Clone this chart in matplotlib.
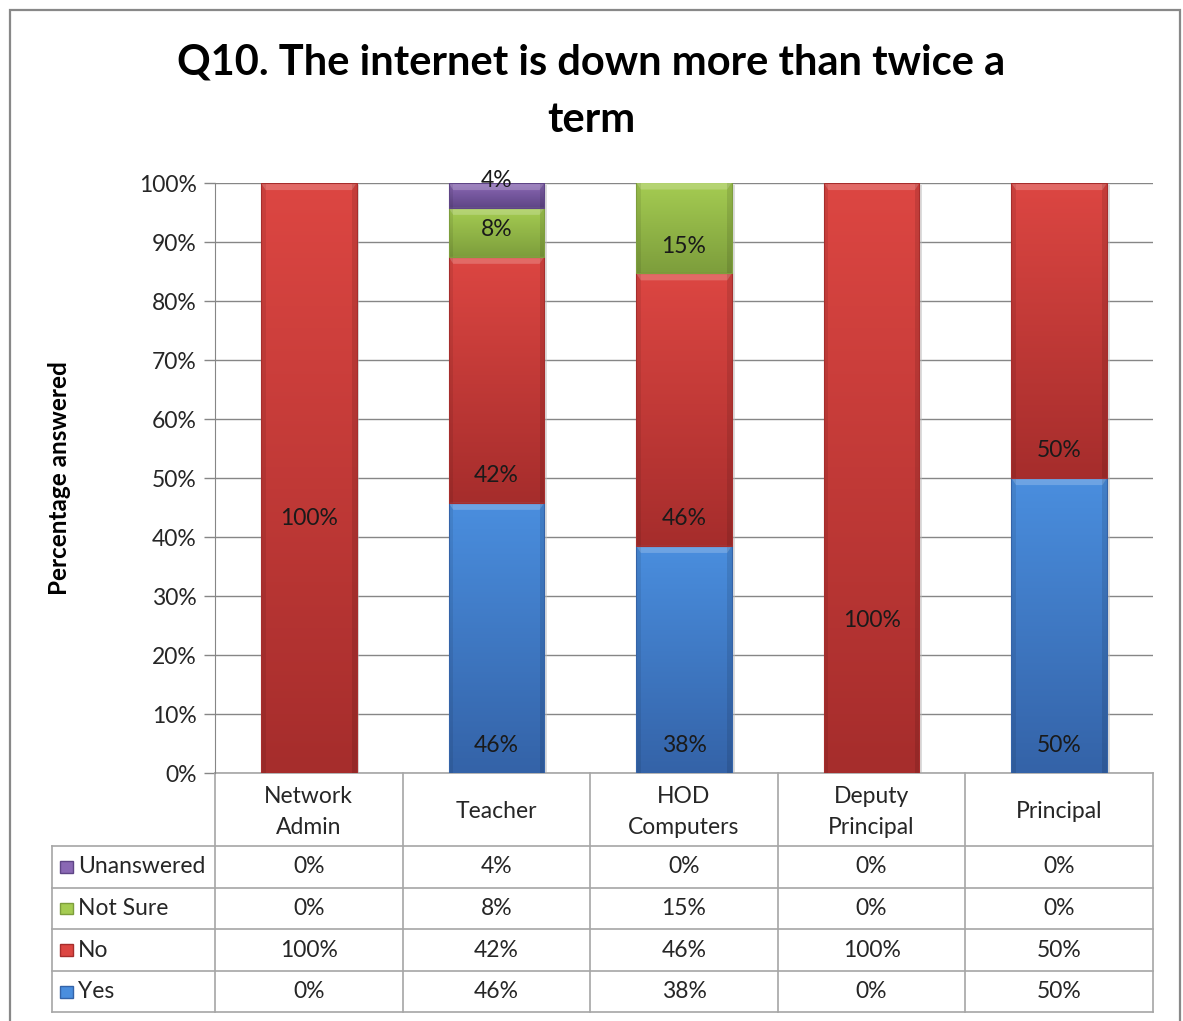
import numpy as np
import matplotlib
matplotlib.use("Agg")
import matplotlib.pyplot as plt
from matplotlib.colors import LinearSegmentedColormap
from matplotlib.patches import Rectangle, Polygon
from matplotlib.transforms import blended_transform_factory

plt.rcParams["font.family"] = ["Lato", "DejaVu Sans"]

categories = ["Network\nAdmin", "Teacher", "HOD\nComputers", "Deputy\nPrincipal", "Principal"]
series_names = ["Yes", "No", "Not Sure", "Unanswered"]
yes = [0.0, 45.8, 38.5, 0.0, 50.0]
no = [100.0, 41.7, 46.2, 100.0, 50.0]
not_sure = [0.0, 8.3, 15.4, 0.0, 0.0]
unanswered = [0.0, 4.2, 0.0, 0.0, 0.0]
# labels that were dragged away from the default "inside base" spot
label_override = {(1, 0): 43.2, (1, 3): 25.8}

colors = {
    "Yes": ("#4a8ede", "#3463a8"),
    "No": ("#dc4642", "#a62d2c"),
    "Not Sure": ("#a5cc52", "#7d9e3c"),
    "Unanswered": ("#8a68b4", "#5f4586"),
}

W, H = 1183, 1021
fig = plt.figure(figsize=(W / 100, H / 100), dpi=100)
fig.patch.set_facecolor("white")
FS = 16.5
TXT = "#262626"


def px(x0, y0, x1, y1):
    return [x0 / W, 1 - y1 / H, (x1 - x0) / W, (y1 - y0) / H]


# outer chart border
fig.add_artist(Rectangle((10 / W, -0.01), 1170 / W, 1 - 10 / H + 0.01,
                         transform=fig.transFigure, fill=False,
                         edgecolor="#888888", linewidth=1.6))

ax = fig.add_axes(px(215, 183, 1153, 773))
x = np.arange(len(categories))
bar_w = 0.51
data = [yes, no, not_sure, unanswered]

ax.set_xlim(-0.5, len(categories) - 0.5)
ax.set_ylim(0, 100)

bottoms = np.zeros(len(categories))
for si, (name, vals) in enumerate(zip(series_names, data)):
    top_c, bot_c = colors[name]
    cmap = LinearSegmentedColormap.from_list(name, [bot_c, top_c])
    bars = ax.bar(x, vals, bar_w, bottom=bottoms, color=top_c,
                  edgecolor="none", zorder=2)
    for i, (b, v) in enumerate(zip(bars, vals)):
        if v <= 0:
            continue
        x0, y0 = b.get_x(), b.get_y()
        # drop shadow
        ax.add_patch(Rectangle((x0 + 0.015, y0 - 0.4), bar_w, v,
                               color="#bbbbbb", alpha=0.5, zorder=1.5,
                               linewidth=0))
        grad = np.linspace(0, 1, 64).reshape(-1, 1)
        ax.imshow(grad, extent=[x0, x0 + bar_w, y0, y0 + v], origin="lower",
                  cmap=cmap, aspect="auto", zorder=2.1, interpolation="bilinear")
        # bevel at the top of each segment
        bh = min(1.2, v * 0.3)
        bw = 0.025
        ax.add_patch(Polygon([(x0, y0 + v), (x0 + bar_w, y0 + v),
                              (x0 + bar_w - bw, y0 + v - bh), (x0 + bw, y0 + v - bh)],
                             closed=True, facecolor="white", alpha=0.2,
                             edgecolor="none", zorder=2.2))
        ax.add_patch(Rectangle((x0, y0), bw, v, facecolor="black", alpha=0.08,
                               edgecolor="none", zorder=2.2))
        ax.add_patch(Rectangle((x0 + bar_w - bw, y0), bw, v, facecolor="black",
                               alpha=0.1, edgecolor="none", zorder=2.2))
        ax.add_patch(Rectangle((x0, y0), bar_w, v, fill=False,
                               edgecolor=bot_c, linewidth=0.8, zorder=2.3))
        ly = label_override.get((si, i), y0 + 4.6)
        ax.text(x0 + bar_w / 2, ly, f"{v:.0f}%", ha="center", va="center",
                fontsize=FS, color="#1a1a1a", zorder=4)
    bottoms += np.array(vals)

ax.set_yticks(np.arange(0, 101, 10))
ax.set_yticklabels([f"{t}%" for t in range(0, 101, 10)], fontsize=FS,
                   color=TXT)
ax.tick_params(axis="y", length=8, width=1, color="#868686", pad=5)
ax.set_xticks([])
ax.yaxis.grid(True, color="#868686", linewidth=1, zorder=0)
ax.set_axisbelow(True)
for s in ["top", "right", "bottom"]:
    ax.spines[s].set_visible(False)
ax.spines["left"].set_color("#868686")
ax.set_ylabel("Percentage answered", fontsize=17.5, fontweight="bold")
ax.yaxis.set_label_coords(-0.153, 0.5)

fig.text(0.5, 1 - 63 / H, "Q10. The internet is down more than twice a",
         ha="center", va="center", fontsize=30, fontweight="bold")
fig.text(0.5, 1 - 120 / H, "term", ha="center", va="center",
         fontsize=30, fontweight="bold")

# data table under the axis
tr = blended_transform_factory(ax.transData, ax.transAxes)
ax_h = 590.0
header_h = 73 / ax_h
row_h = 41.6 / ax_h
left_x = -0.5 - 163 / 187.6
right_x = len(categories) - 0.5
lc = "#a6a6a6"
n_rows = len(series_names)
table_bottom = -header_h - n_rows * row_h


def hline(x0, x1, y):
    ax.plot([x0, x1], [y, y], transform=tr, color=lc, lw=1.2, clip_on=False)


def vline(xp, y0, y1):
    ax.plot([xp, xp], [y0, y1], transform=tr, color=lc, lw=1.2, clip_on=False)


hline(-0.5, right_x, 0)
for r in range(n_rows + 1):
    hline(left_x, right_x, -header_h - r * row_h)
for c in range(len(categories) + 1):
    vline(-0.5 + c, 0, table_bottom)
vline(left_x, -header_h, table_bottom)

for c, cat in enumerate(categories):
    ax.text(c, -header_h / 2 - 0.004, cat, transform=tr, ha="center",
            va="center", fontsize=FS, color=TXT, linespacing=1.6)

row_order = list(reversed(range(n_rows)))
for r, si in enumerate(row_order):
    yc = -header_h - (r + 0.5) * row_h
    name = series_names[si]
    top_c, bot_c = colors[name]
    ax.add_patch(Rectangle((left_x + 0.045, yc - 0.01), 0.068, 0.02,
                           transform=tr, facecolor=top_c, edgecolor=bot_c,
                           linewidth=1, clip_on=False))
    ax.text(left_x + 0.14, yc, name, transform=tr, ha="left", va="center",
            fontsize=FS, color=TXT)
    for c, v in enumerate(data[si]):
        ax.text(c, yc, f"{v:.0f}%", transform=tr, ha="center", va="center",
                fontsize=FS, color=TXT)

fig.savefig("out.png", dpi=100)
